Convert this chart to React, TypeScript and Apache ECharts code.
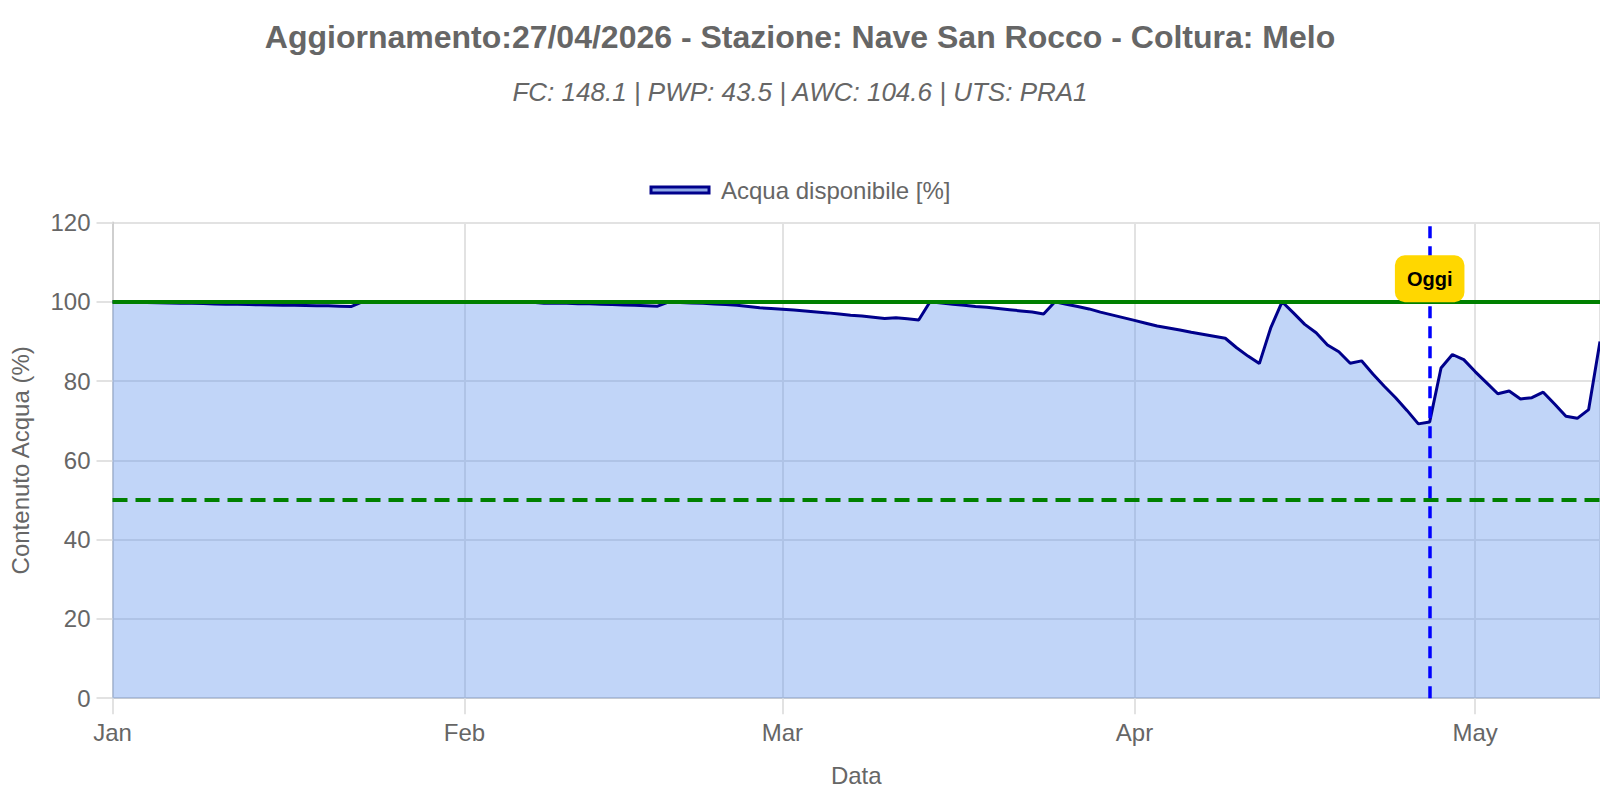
import React, { useEffect, useRef } from "react";
import * as echarts from "echarts";

const TITLE = "Aggiornamento:27/04/2026 - Stazione: Nave San Rocco - Coltura: Melo";
const SUBTITLE = "FC: 148.1 | PWP: 43.5 | AWC: 104.6 | UTS: PRA1";
const SERIES_NAME = "Acqua disponibile [%]";
const X_NAME = "Data";
const Y_NAME = "Contenuto Acqua (%)";
const TODAY_LABEL = "Oggi";

const START_DATE = "2026-01-01";
const END_DATE = "2026-05-12";
const TODAY = "2026-04-27";
const FC_LEVEL = 100;
const THRESHOLD_LEVEL = 50;
const TODAY_LABEL_Y = 105.8;

const MONTH_LABELS = ["Jan", "Feb", "Mar", "Apr", "May", "Jun", "Jul", "Aug", "Sep", "Oct", "Nov", "Dec"];
const Y_TICKS = [0, 20, 40, 60, 80, 100, 120];

// Daily available water (%) from 2026-01-01 onwards
const WATER_VALUES = [
  // Jan
  100, 99.9, 99.85, 99.8, 99.75, 99.7, 99.65, 99.6, 99.55, 99.45,
  99.4, 99.35, 99.3, 99.25, 99.2, 99.15, 99.1, 99.05, 99.0, 99.0,
  98.9, 98.8, 100, 100, 100, 100, 100, 100, 100, 100,
  99.95,
  // Feb
  99.9, 99.9, 99.9, 99.9, 99.9, 99.9, 99.9, 99.6, 99.7, 99.6,
  99.5, 99.5, 99.4, 99.3, 99.2, 99.1, 99.0, 98.9, 100, 99.85,
  99.7, 99.6, 99.45, 99.3, 99.1, 98.8, 98.5, 98.3,
  // Mar
  98.1, 97.9, 97.7, 97.45, 97.2, 96.9, 96.6, 96.4, 96.1, 95.8,
  96.0, 95.7, 95.4, 100, 99.7, 99.4, 99.1, 98.8, 98.6, 98.3,
  98.0, 97.7, 97.4, 96.9, 100, 99.4, 98.8, 98.2, 97.4, 96.7,
  96.0,
  // Apr
  95.3, 94.6, 93.9, 93.4, 92.9, 92.3, 91.8, 91.3, 90.8, 88.4,
  86.3, 84.4, 93.4, 100, 97.2, 94.3, 92.2, 89.1, 87.4, 84.5,
  85.1, 81.8, 78.7, 75.8, 72.6, 69.2, 69.7, 83.3, 86.7, 85.4,
  // May
  82.4, 79.6, 76.8, 77.5, 75.5, 75.8, 77.2, 74.2, 71.1, 70.6,
  72.8, 90.0,
];

function dateOf(i: number): string {
  const d = new Date(2026, 0, 1 + i);
  const mm = String(d.getMonth() + 1).padStart(2, "0");
  const dd = String(d.getDate()).padStart(2, "0");
  return `${d.getFullYear()}-${mm}-${dd}`;
}

const FONT = "'Liberation Sans', Arial, Helvetica, sans-serif";
const GRID_COLOR = "#e2e2e2";
const TEXT_COLOR = "#666666";

export default function App() {
  const ref = useRef<HTMLDivElement>(null);

  useEffect(() => {
    if (!ref.current) return;
    const chart = echarts.init(ref.current, undefined, { renderer: "svg" });
    const seriesData = WATER_VALUES.map((v, i) => [dateOf(i), v]);

    chart.setOption({
      animation: false,
      textStyle: { fontFamily: FONT },
      title: [
        {
          text: TITLE,
          left: "center",
          top: 21,
          padding: 0,
          textStyle: { fontSize: 32, fontWeight: "bold", color: TEXT_COLOR, fontFamily: FONT, lineHeight: 32 },
        },
        {
          text: SUBTITLE,
          left: "center",
          top: 79,
          padding: 0,
          textStyle: { fontSize: 26, fontWeight: "normal", fontStyle: "italic", color: TEXT_COLOR, fontFamily: FONT, lineHeight: 26 },
        },
      ],
      legend: {
        top: 178,
        left: "center",
        padding: 0,
        itemWidth: 58,
        itemHeight: 6,
        textStyle: { fontSize: 24, color: TEXT_COLOR, fontFamily: FONT, padding: [0, 0, 0, 7] },
        data: [
          {
            name: SERIES_NAME,
            icon: "rect",
            itemStyle: { color: "#8fa9e8", borderColor: "#00008b", borderWidth: 3 },
          },
        ],
      },
      grid: { left: 112.5, right: 0, top: 222.5, bottom: 101.8, containLabel: false },
      xAxis: {
        type: "time",
        min: START_DATE,
        max: END_DATE,
        splitNumber: 5,
        minInterval: 28 * 86400000,
        maxInterval: 31 * 86400000,
        name: X_NAME,
        nameLocation: "middle",
        nameGap: 65,
        nameTextStyle: { fontSize: 24, color: TEXT_COLOR, fontFamily: FONT },
        axisLine: { show: true, lineStyle: { color: "#cfcfcf", width: 2 } },
        axisTick: { show: true, length: 16, lineStyle: { color: GRID_COLOR, width: 2 } },
        axisLabel: {
          fontSize: 24,
          color: TEXT_COLOR,
          fontFamily: FONT,
          margin: 22,
          formatter: (value: number) => MONTH_LABELS[new Date(value).getMonth()],
        },
        splitLine: { show: true, lineStyle: { color: GRID_COLOR, width: 2 } },
      },
      yAxis: {
        type: "value",
        min: Y_TICKS[0],
        max: Y_TICKS[Y_TICKS.length - 1],
        interval: 20,
        name: Y_NAME,
        nameLocation: "middle",
        nameGap: 80,
        nameTextStyle: { fontSize: 24, color: TEXT_COLOR, fontFamily: FONT },
        axisLine: { show: true, lineStyle: { color: "#cfcfcf", width: 2 } },
        axisTick: { show: true, length: 16, lineStyle: { color: GRID_COLOR, width: 2 } },
        axisLabel: { fontSize: 24, color: TEXT_COLOR, fontFamily: FONT, margin: 22 },
        splitLine: { show: true, lineStyle: { color: GRID_COLOR, width: 2 } },
      },
      series: [
        {
          name: SERIES_NAME,
          type: "line",
          data: seriesData,
          showSymbol: false,
          symbol: "none",
          smooth: false,
          lineStyle: { color: "#00008b", width: 3 },
          itemStyle: { color: "#00008b" },
          areaStyle: { color: "rgba(100,149,237,0.4)", opacity: 1, origin: "start" },
          markLine: {
            silent: true,
            symbol: "none",
            label: { show: false },
            data: [
              { yAxis: FC_LEVEL, lineStyle: { color: "#008000", width: 4, type: "solid" } },
              { yAxis: THRESHOLD_LEVEL, lineStyle: { color: "#008000", width: 4, type: [15, 8] } },
              { xAxis: TODAY, lineStyle: { color: "#0000ff", width: 3.5, type: [12, 8] } },
            ],
          },
          markPoint: {
            silent: true,
            symbol: "rect",
            symbolSize: 1,
            itemStyle: { color: "rgba(0,0,0,0)" },
            label: {
              show: true,
              position: "inside",
              formatter: TODAY_LABEL,
              backgroundColor: "#FFD700",
              borderRadius: 10,
              padding: [13, 12, 13, 12],
              fontSize: 20,
              fontWeight: "bold",
              color: "#000000",
              lineHeight: 21,
              fontFamily: FONT,
            },
            data: [{ coord: [TODAY, TODAY_LABEL_Y] }],
          },
        },
      ],
    });

    return () => chart.dispose();
  }, []);

  return (
    <div
      ref={ref}
      style={{ position: "fixed", left: 0, top: 0, width: 1600, height: 800, background: "#ffffff" }}
    />
  );
}
